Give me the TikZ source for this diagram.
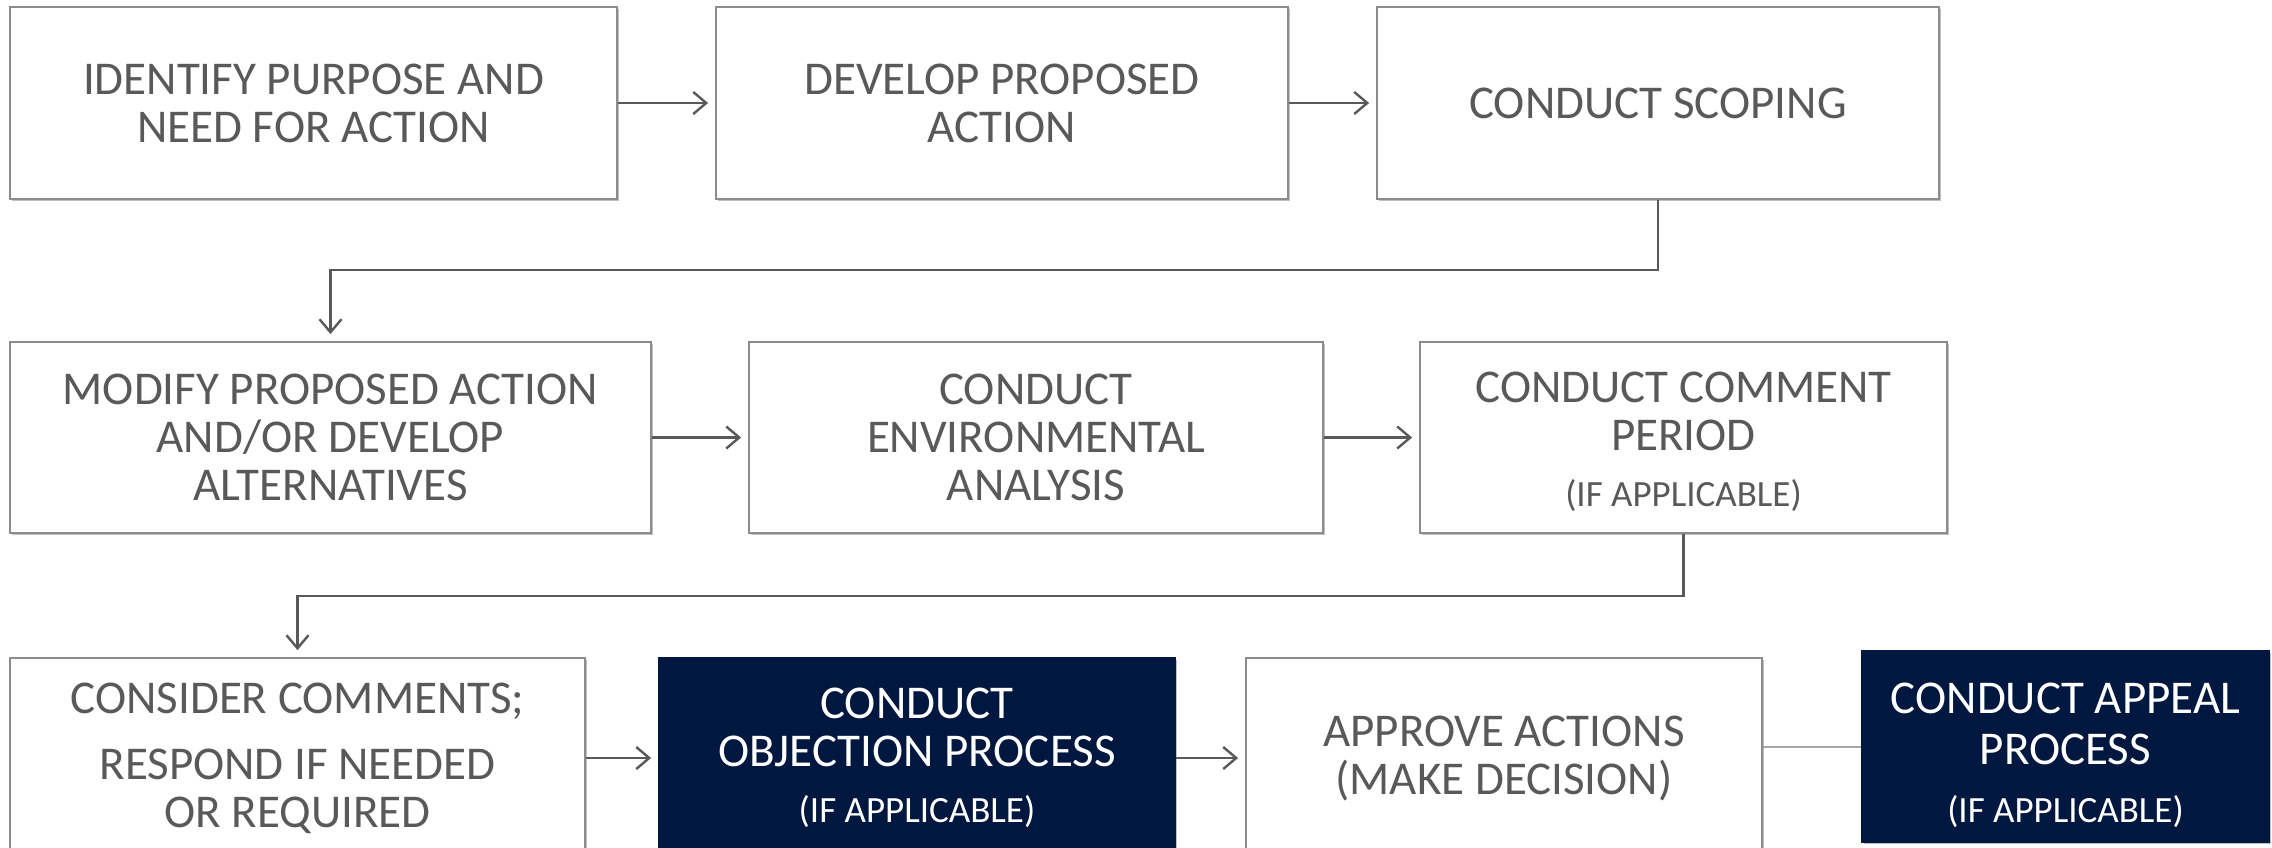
\documentclass[tikz,border=0pt]{standalone}
\usepackage{fontspec}
\setmainfont{Carlito}
\usetikzlibrary{arrows.meta,shadows}
\definecolor{txtgray}{HTML}{595959}
\definecolor{bordgray}{HTML}{8C8C8C}
\definecolor{arrgray}{HTML}{595959}
\definecolor{linkgray}{HTML}{A6A6A6}
\definecolor{navy}{HTML}{00173F}
\newcommand{\sm}{\fontsize{18.5}{20}\selectfont}
\tikzset{
  stepbox/.style={draw=bordgray, line width=0.9pt, fill=white, text=txtgray,
    align=center, inner sep=0pt,
    font=\fontsize{23.5}{24}\selectfont,
    drop shadow={shadow xshift=1.2pt, shadow yshift=-1.2pt, opacity=0.25, fill=black}},
  darkbox/.style={stepbox, fill=navy, draw=navy, text=white},
  arr/.style={draw=arrgray, line width=1.2pt, -{Straight Barb[length=6.5pt,width=11pt,line width=1.2pt]}, shorten >=3.5pt},
  link/.style={draw=linkgray, line width=1pt}
}
\begin{document}
\begin{tikzpicture}[x=0.5pt,y=-0.5pt]
\clip (0,0) rectangle (2272,847);
\useasboundingbox (0,0) rectangle (2272,847);
\fill[white] (0,0) rectangle (2272,847);
% row 1
\node[stepbox, minimum width=303.5pt, minimum height=96pt] (A) at (313.5,103)
  {IDENTIFY PURPOSE AND\\NEED FOR ACTION};
\node[stepbox, minimum width=286pt, minimum height=96pt] (B) at (1002,103)
  {DEVELOP PROPOSED\\ACTION};
\node[stepbox, minimum width=281pt, minimum height=96pt] (C) at (1658,103)
  {CONDUCT SCOPING};
% row 2
\node[stepbox, minimum width=320.5pt, minimum height=95.5pt] (D) at (330.5,437.5)
  {MODIFY PROPOSED ACTION\\AND/OR DEVELOP\\ALTERNATIVES};
\node[stepbox, minimum width=287pt, minimum height=95.5pt] (E) at (1036,437.5)
  {CONDUCT\\ENVIRONMENTAL\\ANALYSIS};
\node[stepbox, minimum width=263.5pt, minimum height=95.5pt] (F) at (1683.5,437.5)
  {\rule{0pt}{20pt}CONDUCT COMMENT\\PERIOD\\[4pt]\sm (IF APPLICABLE)};
% row 3
\node[stepbox, minimum width=287.5pt, minimum height=100pt] (G) at (297.5,758)
  {CONSIDER COMMENTS;\\[9pt]RESPOND IF NEEDED\\OR REQUIRED};
\node[darkbox, minimum width=258pt, minimum height=100pt] (H) at (917,758)
  {CONDUCT\\OBJECTION PROCESS\\[4pt]\sm (IF APPLICABLE)};
\node[stepbox, minimum width=258pt, minimum height=100pt] (I) at (1504,758)
  {APPROVE ACTIONS\\(MAKE DECISION)};
\node[darkbox, minimum width=203.5pt, minimum height=95.5pt] (J) at (2065.5,746.5)
  {\rule{0pt}{24pt}CONDUCT APPEAL\\[1.5pt]PROCESS\\[5pt]\sm (IF APPLICABLE)};
% connectors
\coordinate (k1) at (330.5,270);
\coordinate (k2) at (297.5,596);
\draw[arr] (A.east) -- (B.west);
\draw[arr] (B.east) -- (C.west);
\draw[arr] (C.south) |- (k1) -- (D.north);
\draw[arr] (D.east) -- (E.west);
\draw[arr] (E.east) -- (F.west);
\draw[arr] (F.south) |- (k2) -- (G.north);
\draw[arr] (G.east) -- (H.west);
\draw[arr] (H.east) -- (I.west);
\draw[link] (I.east |- J.west) -- (J.west);
\end{tikzpicture}
\end{document}
